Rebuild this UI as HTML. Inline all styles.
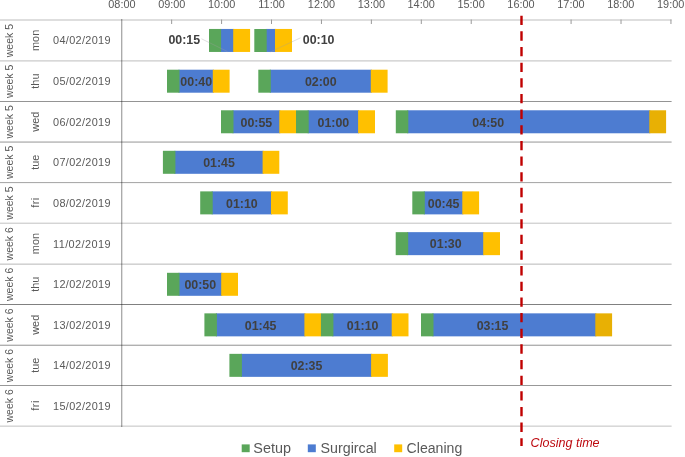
<!DOCTYPE html>
<html><head><meta charset="utf-8"><title>Schedule</title>
<style>
html,body{margin:0;padding:0;background:#fff;}
body{width:685px;height:457px;overflow:hidden;}
svg{display:block;font-family:"Liberation Sans",sans-serif;}
.ax{fill:#595959;font-size:10.9px;}
.wk{fill:#595959;font-size:10.5px;}
.lb{fill:#404040;font-size:12.4px;font-weight:bold;}
.lg{fill:#595959;font-size:14px;}
</style></head><body>
<svg width="685" height="457" viewBox="0 0 685 457">
<rect width="685" height="457" fill="#fff"/>

<rect x="0" y="19" width="671.6" height="1" fill="#dedede"/>
<rect x="0" y="20" width="671.6" height="1" fill="#dedede"/>
<rect x="0" y="60" width="671.6" height="1" fill="#d8d8d8"/>
<rect x="0" y="61" width="671.6" height="1" fill="#e4e4e4"/>
<rect x="0" y="101" width="671.6" height="1" fill="#949494"/>
<rect x="0" y="141" width="671.6" height="1" fill="#d0d0d0"/>
<rect x="0" y="142" width="671.6" height="1" fill="#c4c4c4"/>
<rect x="0" y="182" width="671.6" height="1" fill="#ababab"/>
<rect x="0" y="183" width="671.6" height="1" fill="#f6f6f6"/>
<rect x="0" y="222" width="671.6" height="1" fill="#ececec"/>
<rect x="0" y="223" width="671.6" height="1" fill="#d4d4d4"/>
<rect x="0" y="263" width="671.6" height="1" fill="#e4e4e4"/>
<rect x="0" y="264" width="671.6" height="1" fill="#d2d2d2"/>
<rect x="0" y="304" width="671.6" height="1" fill="#808080"/>
<rect x="0" y="344" width="671.6" height="1" fill="#e0e0e0"/>
<rect x="0" y="345" width="671.6" height="1" fill="#b0b0b0"/>
<rect x="0" y="385" width="671.6" height="1" fill="#989898"/>
<rect x="0" y="425" width="671.6" height="1" fill="#e8e8e8"/>
<rect x="0" y="426" width="671.6" height="1" fill="#d8d8d8"/>
<rect x="121" y="19" width="1" height="408" fill="#000" fill-opacity="0.33"/><rect x="122" y="19" width="1" height="408" fill="#000" fill-opacity="0.12"/>
<text class="ax" x="121.9" y="8.1" text-anchor="middle">08:00</text>
<line x1="171.65" y1="19.5" x2="171.65" y2="24" stroke="#9a9a9a" stroke-width="1"/>
<text class="ax" x="171.8" y="8.1" text-anchor="middle">09:00</text>
<line x1="221.58" y1="19.5" x2="221.58" y2="24" stroke="#9a9a9a" stroke-width="1"/>
<text class="ax" x="221.7" y="8.1" text-anchor="middle">10:00</text>
<line x1="271.51" y1="19.5" x2="271.51" y2="24" stroke="#9a9a9a" stroke-width="1"/>
<text class="ax" x="271.6" y="8.1" text-anchor="middle">11:00</text>
<line x1="321.44" y1="19.5" x2="321.44" y2="24" stroke="#9a9a9a" stroke-width="1"/>
<text class="ax" x="321.5" y="8.1" text-anchor="middle">12:00</text>
<line x1="371.37" y1="19.5" x2="371.37" y2="24" stroke="#9a9a9a" stroke-width="1"/>
<text class="ax" x="371.4" y="8.1" text-anchor="middle">13:00</text>
<line x1="421.30" y1="19.5" x2="421.30" y2="24" stroke="#9a9a9a" stroke-width="1"/>
<text class="ax" x="421.2" y="8.1" text-anchor="middle">14:00</text>
<line x1="471.23" y1="19.5" x2="471.23" y2="24" stroke="#9a9a9a" stroke-width="1"/>
<text class="ax" x="471.1" y="8.1" text-anchor="middle">15:00</text>
<line x1="521.16" y1="19.5" x2="521.16" y2="24" stroke="#9a9a9a" stroke-width="1"/>
<text class="ax" x="521.0" y="8.1" text-anchor="middle">16:00</text>
<line x1="571.09" y1="19.5" x2="571.09" y2="24" stroke="#9a9a9a" stroke-width="1"/>
<text class="ax" x="570.9" y="8.1" text-anchor="middle">17:00</text>
<line x1="621.02" y1="19.5" x2="621.02" y2="24" stroke="#9a9a9a" stroke-width="1"/>
<text class="ax" x="620.8" y="8.1" text-anchor="middle">18:00</text>
<line x1="670.95" y1="19.5" x2="670.95" y2="24" stroke="#9a9a9a" stroke-width="1"/>
<text class="ax" x="670.7" y="8.1" text-anchor="middle">19:00</text>
<text class="wk" transform="translate(12.6,40.6) rotate(-90)" text-anchor="middle">week 5</text>
<text class="ax" transform="translate(38.9,40.4) rotate(-90)" text-anchor="middle">mon</text>
<text class="ax" x="53" y="44.2" textLength="57.5" lengthAdjust="spacing">04/02/2019</text>
<text class="wk" transform="translate(12.6,81.3) rotate(-90)" text-anchor="middle">week 5</text>
<text class="ax" transform="translate(38.9,81.1) rotate(-90)" text-anchor="middle">thu</text>
<text class="ax" x="53" y="85.0" textLength="57.5" lengthAdjust="spacing">05/02/2019</text>
<text class="wk" transform="translate(12.6,121.9) rotate(-90)" text-anchor="middle">week 5</text>
<text class="ax" transform="translate(38.9,121.7) rotate(-90)" text-anchor="middle">wed</text>
<text class="ax" x="53" y="125.6" textLength="57.5" lengthAdjust="spacing">06/02/2019</text>
<text class="wk" transform="translate(12.6,162.4) rotate(-90)" text-anchor="middle">week 5</text>
<text class="ax" transform="translate(38.9,162.2) rotate(-90)" text-anchor="middle">tue</text>
<text class="ax" x="53" y="166.1" textLength="57.5" lengthAdjust="spacing">07/02/2019</text>
<text class="wk" transform="translate(12.6,203.0) rotate(-90)" text-anchor="middle">week 5</text>
<text class="ax" transform="translate(38.9,202.8) rotate(-90)" text-anchor="middle" textLength="10" lengthAdjust="spacing">fri</text>
<text class="ax" x="53" y="206.7" textLength="57.5" lengthAdjust="spacing">08/02/2019</text>
<text class="wk" transform="translate(12.6,243.8) rotate(-90)" text-anchor="middle">week 6</text>
<text class="ax" transform="translate(38.9,243.6) rotate(-90)" text-anchor="middle">mon</text>
<text class="ax" x="53" y="247.5" textLength="57.5" lengthAdjust="spacing">11/02/2019</text>
<text class="wk" transform="translate(12.6,284.4) rotate(-90)" text-anchor="middle">week 6</text>
<text class="ax" transform="translate(38.9,284.2) rotate(-90)" text-anchor="middle">thu</text>
<text class="ax" x="53" y="288.1" textLength="57.5" lengthAdjust="spacing">12/02/2019</text>
<text class="wk" transform="translate(12.6,325.0) rotate(-90)" text-anchor="middle">week 6</text>
<text class="ax" transform="translate(38.9,324.8) rotate(-90)" text-anchor="middle">wed</text>
<text class="ax" x="53" y="328.7" textLength="57.5" lengthAdjust="spacing">13/02/2019</text>
<text class="wk" transform="translate(12.6,365.5) rotate(-90)" text-anchor="middle">week 6</text>
<text class="ax" transform="translate(38.9,365.2) rotate(-90)" text-anchor="middle">tue</text>
<text class="ax" x="53" y="369.2" textLength="57.5" lengthAdjust="spacing">14/02/2019</text>
<text class="wk" transform="translate(12.6,405.9) rotate(-90)" text-anchor="middle">week 6</text>
<text class="ax" transform="translate(38.9,405.7) rotate(-90)" text-anchor="middle" textLength="10" lengthAdjust="spacing">fri</text>
<text class="ax" x="53" y="409.6" textLength="57.5" lengthAdjust="spacing">15/02/2019</text>
<rect x="220.1" y="28.95" width="14.1" height="23.0" fill="#4d7cd1"/>
<path d="M209.0 28.95h12.1v23.0h-12.1z" fill="#5aa65a"/>
<path d="M233.2 28.95h16.9v23.0h-16.9z" fill="#ffc000"/>
<rect x="265.7" y="28.95" width="10.3" height="23.0" fill="#4d7cd1"/>
<path d="M254.3 28.95h12.4v23.0h-12.4z" fill="#5aa65a"/>
<path d="M275.0 28.95h17.0v23.0h-17.0z" fill="#ffc000"/>
<rect x="178.5" y="69.70" width="35.3" height="23.0" fill="#4d7cd1"/>
<path d="M167.0 69.70h12.5v23.0h-12.5z" fill="#5aa65a"/>
<path d="M212.8 69.70h16.8v23.0h-16.8z" fill="#ffc000"/>
<text class="lb" x="196.2" y="85.8" text-anchor="middle">00:40</text>
<rect x="269.8" y="69.70" width="102.0" height="23.0" fill="#4d7cd1"/>
<path d="M258.3 69.70h12.5v23.0h-12.5z" fill="#5aa65a"/>
<path d="M370.8 69.70h16.8v23.0h-16.8z" fill="#ffc000"/>
<text class="lb" x="320.8" y="85.8" text-anchor="middle">02:00</text>
<rect x="232.5" y="110.28" width="47.8" height="23.0" fill="#4d7cd1"/>
<path d="M221.0 110.28h12.5v23.0h-12.5z" fill="#5aa65a"/>
<path d="M279.3 110.28h16.8v23.0h-16.8z" fill="#ffc000"/>
<text class="lb" x="256.4" y="126.8" text-anchor="middle">00:55</text>
<rect x="307.7" y="110.28" width="51.4" height="23.0" fill="#4d7cd1"/>
<path d="M296.0 110.28h12.7v23.0h-12.7z" fill="#5aa65a"/>
<path d="M358.1 110.28h16.9v23.0h-16.9z" fill="#ffc000"/>
<text class="lb" x="333.4" y="126.8" text-anchor="middle">01:00</text>
<rect x="407.3" y="110.28" width="243.0" height="23.0" fill="#4d7cd1"/>
<path d="M395.8 110.28h12.5v23.0h-12.5z" fill="#5aa65a"/>
<path d="M649.3 110.28h16.8v23.0h-16.8z" fill="#e8b004"/>
<text class="lb" x="488.2" y="126.8" text-anchor="middle">04:50</text>
<rect x="174.4" y="150.80" width="89.2" height="23.0" fill="#4d7cd1"/>
<path d="M162.9 150.80h12.5v23.0h-12.5z" fill="#5aa65a"/>
<path d="M262.6 150.80h16.7v23.0h-16.7z" fill="#ffc000"/>
<text class="lb" x="219.0" y="166.9" text-anchor="middle">01:45</text>
<rect x="211.7" y="191.38" width="60.3" height="23.0" fill="#4d7cd1"/>
<path d="M200.2 191.38h12.5v23.0h-12.5z" fill="#5aa65a"/>
<path d="M271.0 191.38h16.8v23.0h-16.8z" fill="#ffc000"/>
<text class="lb" x="241.9" y="207.5" text-anchor="middle">01:10</text>
<rect x="423.8" y="191.38" width="39.5" height="23.0" fill="#4d7cd1"/>
<path d="M412.3 191.38h12.5v23.0h-12.5z" fill="#5aa65a"/>
<path d="M462.3 191.38h16.8v23.0h-16.8z" fill="#ffc000"/>
<text class="lb" x="443.6" y="207.5" text-anchor="middle">00:45</text>
<rect x="407.2" y="232.15" width="77.0" height="23.0" fill="#4d7cd1"/>
<path d="M395.7 232.15h12.5v23.0h-12.5z" fill="#5aa65a"/>
<path d="M483.2 232.15h16.8v23.0h-16.8z" fill="#ffc000"/>
<text class="lb" x="445.7" y="248.2" text-anchor="middle">01:30</text>
<rect x="178.5" y="272.80" width="43.7" height="23.0" fill="#4d7cd1"/>
<path d="M167.0 272.80h12.5v23.0h-12.5z" fill="#5aa65a"/>
<path d="M221.2 272.80h16.8v23.0h-16.8z" fill="#ffc000"/>
<text class="lb" x="200.3" y="288.9" text-anchor="middle">00:50</text>
<rect x="215.9" y="313.35" width="89.5" height="23.0" fill="#4d7cd1"/>
<path d="M204.4 313.35h12.5v23.0h-12.5z" fill="#5aa65a"/>
<path d="M304.4 313.35h16.8v23.0h-16.8z" fill="#ffc000"/>
<text class="lb" x="260.6" y="329.5" text-anchor="middle">01:45</text>
<rect x="332.4" y="313.35" width="60.3" height="23.0" fill="#4d7cd1"/>
<path d="M320.9 313.35h12.5v23.0h-12.5z" fill="#5aa65a"/>
<path d="M391.7 313.35h16.8v23.0h-16.8z" fill="#ffc000"/>
<text class="lb" x="362.6" y="329.5" text-anchor="middle">01:10</text>
<rect x="432.5" y="313.35" width="163.8" height="23.0" fill="#4d7cd1"/>
<path d="M421.0 313.35h12.5v23.0h-12.5z" fill="#5aa65a"/>
<path d="M595.3 313.35h16.8v23.0h-16.8z" fill="#e8b004"/>
<text class="lb" x="492.5" y="329.5" text-anchor="middle">03:15</text>
<rect x="240.9" y="353.85" width="131.2" height="23.0" fill="#4d7cd1"/>
<path d="M229.4 353.85h12.5v23.0h-12.5z" fill="#5aa65a"/>
<path d="M371.1 353.85h16.8v23.0h-16.8z" fill="#ffc000"/>
<text class="lb" x="306.5" y="370.0" text-anchor="middle">02:35</text>
<line x1="201.5" y1="38.8" x2="227.5" y2="51.6" stroke="#a0a0a0" stroke-opacity="0.42" stroke-width="0.8"/>
<line x1="300.6" y1="37.8" x2="270.4" y2="51.9" stroke="#a0a0a0" stroke-opacity="0.42" stroke-width="0.8"/>
<text class="lb" x="184.3" y="44.2" text-anchor="middle">00:15</text>
<text class="lb" x="318.6" y="44.2" text-anchor="middle">00:10</text>
<line x1="521.5" y1="15.7" x2="521.5" y2="445.9" stroke="#c00000" stroke-width="2.4" stroke-dasharray="9.3,6.35"/>
<text x="530.6" y="446.8" fill="#bd0a10" font-size="12.6px" font-style="italic" textLength="69" lengthAdjust="spacingAndGlyphs">Closing time</text>
<rect x="241.7" y="444.4" width="8" height="7.8" fill="#5aa65a"/><text class="lg" x="253.3" y="453.3" textLength="37.6" lengthAdjust="spacingAndGlyphs">Setup</text>
<rect x="307.8" y="444.4" width="8" height="7.8" fill="#4d7cd1"/><text class="lg" x="320.5" y="453.3" textLength="56.3" lengthAdjust="spacingAndGlyphs">Surgircal</text>
<rect x="394.2" y="444.4" width="8" height="7.8" fill="#ffc000"/><text class="lg" x="406.6" y="453.3" textLength="55.7" lengthAdjust="spacingAndGlyphs">Cleaning</text>
</svg></body></html>
